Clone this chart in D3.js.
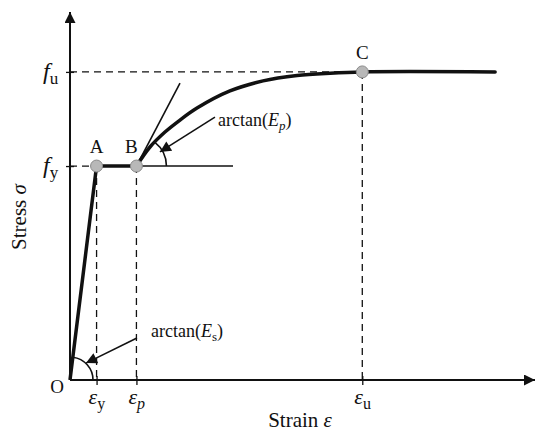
<!DOCTYPE html>
<html><head><meta charset="utf-8">
<script src="https://cdn.jsdelivr.net/npm/d3@7"></script>
<style>
html,body{margin:0;padding:0;background:#fff;}
</style></head>
<body>
<svg id="chart" width="550" height="437" font-family="'Liberation Serif','Times New Roman',Times,serif"></svg>
<script>
// ---- data (strain in arbitrary units, stress normalised by fy) ----
const tickNames = ["y", "p", "u"];
const tickStrain = [2, 5, 22];
const levelNames = ["u", "y"];
const levelStress = [1.44, 1.0];
const pointLabels = ["A", "B", "C"];
const pointStrain = [2, 5, 22];
const pointStress = [1.0, 1.0, 1.44];
const elasticStrain = [0, 2, 5];
const elasticStress = [0, 1.0, 1.0];
const hardStrain = [5, 6.02, 7.15, 8.28, 9.56, 12.04, 14.53, 17.09, 19.57, 22, 32];
const hardStress = [1.0, 1.089, 1.159, 1.215, 1.271, 1.351, 1.398, 1.423, 1.434, 1.44, 1.44];
const tangentStrain = [5, 8.28];
const tangentStress = [1.0, 1.388];
const plateauStrain = [5, 12.27];
const plateauStress = [1.0, 1.0];

const svg = d3.select("#chart");
const x = d3.scaleLinear().domain([0, 35]).range([70, 535]);
const y = d3.scaleLinear().domain([0, 1.72]).range([380, 12]);
const INK = "#111";

const defs = svg.append("defs");
defs.append("marker").attr("id","ah").attr("viewBox","0 0 10 10").attr("refX",10).attr("refY",5)
  .attr("markerWidth",16).attr("markerHeight",11).attr("markerUnits","userSpaceOnUse").attr("orient","auto")
  .append("path").attr("d","M0,0L10,5L0,10Z").attr("fill",INK);

// dashed guides
const dash = svg.append("g").attr("stroke",INK).attr("stroke-width",1.3).attr("stroke-dasharray","7,5").attr("fill","none");
dash.append("line").attr("x1",x(0)).attr("x2",x(pointStrain[2])).attr("y1",y(levelStress[0])).attr("y2",y(levelStress[0]));
dash.append("line").attr("x1",x(0)).attr("x2",x(pointStrain[0])).attr("y1",y(levelStress[1])).attr("y2",y(levelStress[1]));
pointStrain.forEach((s,i)=>{
  dash.append("line").attr("x1",x(s)).attr("x2",x(s)).attr("y1",y(pointStress[i])).attr("y2",y(0));
});

// axes with ticks
const xAxis = d3.axisBottom(x).tickValues(tickStrain).tickFormat("").tickSizeInner(5).tickSizeOuter(0);
const gx = svg.append("g").attr("transform",`translate(0,${y(0)})`).call(xAxis);
gx.select(".domain").remove();
gx.selectAll(".tick line").attr("stroke",INK).attr("stroke-width",1.3).attr("y1",-4);
const yAxis = d3.axisLeft(y).tickValues(levelStress).tickFormat("").tickSizeInner(4).tickSizeOuter(0);
const gy = svg.append("g").attr("transform",`translate(${x(0)},0)`).call(yAxis);
gy.select(".domain").remove();
gy.selectAll(".tick line").attr("stroke",INK).attr("stroke-width",1.3).attr("x2",-4).attr("x1",4);

// axis lines with arrows
svg.append("line").attr("x1",x(0)).attr("y1",y(0)).attr("x2",x(35)).attr("y2",y(0))
  .attr("stroke",INK).attr("stroke-width",2).attr("marker-end","url(#ah)");
svg.append("line").attr("x1",x(0)).attr("y1",y(0)).attr("x2",x(0)).attr("y2",y(1.72))
  .attr("stroke",INK).attr("stroke-width",2).attr("marker-end","url(#ah)");

// thin lines: plateau extension and tangent
const lin = d3.line().x(d=>x(d[0])).y(d=>y(d[1]));
svg.append("path").attr("d",lin(d3.zip(plateauStrain,plateauStress))).attr("stroke",INK).attr("stroke-width",1.6).attr("fill","none");
svg.append("path").attr("d",lin(d3.zip(tangentStrain,tangentStress))).attr("stroke",INK).attr("stroke-width",1.6).attr("fill","none");

// angle arcs
function arcAt(cx, cy, r, a0, a1){
  const p = d3.path();
  p.arc(cx, cy, r, -a0, -a1, true);
  return p.toString();
}
const elAng = Math.atan2(y(0)-y(elasticStress[1]), x(elasticStrain[1])-x(0));
svg.append("path").attr("d",arcAt(x(0),y(0),23,0,elAng)).attr("stroke",INK).attr("stroke-width",1.6).attr("fill","none");
svg.append("path").attr("d",arcAt(x(5),y(1),30,0,52*Math.PI/180)).attr("stroke",INK).attr("stroke-width",1.6).attr("fill","none");

// main stress-strain curve
svg.append("path").attr("d",lin(d3.zip(elasticStrain,elasticStress))).attr("stroke",INK).attr("stroke-width",3.5).attr("fill","none").attr("stroke-linejoin","round");
const curve = d3.line().x(d=>x(d[0])).y(d=>y(d[1])).curve(d3.curveCatmullRom.alpha(0.5));
svg.append("path").attr("d",curve(d3.zip(hardStrain,hardStress))).attr("stroke",INK).attr("stroke-width",3.5).attr("fill","none").attr("stroke-linecap","round");

// points
svg.selectAll("circle.pt").data(pointStrain).join("circle").attr("class","pt")
  .attr("cx",d=>x(d)).attr("cy",(d,i)=>y(pointStress[i])).attr("r",6)
  .attr("fill","#b8b8b8").attr("stroke","#8a8a8a").attr("stroke-width",1);
const lblDx = [0, -5, 0];
svg.selectAll("text.pl").data(pointLabels).join("text").attr("class","pl")
  .attr("x",(d,i)=>x(pointStrain[i])+lblDx[i]).attr("y",(d,i)=>y(pointStress[i])-13)
  .attr("text-anchor","middle").attr("font-size",19).attr("fill",INK).text(d=>d);

// annotation arrows
const ann = [
  {from:[5.04,0.196], to:[1.2,0.079], txt:[6.1,0.2], sub:"s", subItalic:false},
  {from:[10.91,1.229], to:[6.77,1.066], txt:[11.14,1.187], sub:"p", subItalic:true}
];
ann.forEach(a=>{
  svg.append("line").attr("x1",x(a.from[0])).attr("y1",y(a.from[1])).attr("x2",x(a.to[0])).attr("y2",y(a.to[1]))
    .attr("stroke",INK).attr("stroke-width",1.6).attr("marker-end","url(#ah)");
  const t = svg.append("text").attr("x",x(a.txt[0])).attr("y",y(a.txt[1])).attr("font-size",18).attr("fill",INK);
  t.append("tspan").text("arctan(");
  t.append("tspan").attr("font-style","italic").text("E");
  t.append("tspan").attr("font-size",13).attr("dy",4).attr("font-style",a.subItalic?"italic":"normal").text(a.sub);
  t.append("tspan").attr("dy",-4).text(")");
});

// x tick labels (epsilon)
tickStrain.forEach((s,i)=>{
  const t = svg.append("text").attr("x",x(s)-8).attr("y",y(0)+24).attr("font-size",22).attr("fill",INK);
  t.append("tspan").attr("font-style","italic").text("ε");
  t.append("tspan").attr("font-size",16).attr("dy",5).attr("font-style",tickNames[i]==="p"?"italic":"normal").text(tickNames[i]);
});
// y level labels (f)
levelStress.forEach((v,i)=>{
  const t = svg.append("text").attr("x",x(0)-27).attr("y",y(v)+7).attr("font-size",24).attr("fill",INK);
  t.append("tspan").attr("font-style","italic").text("f");
  t.append("tspan").attr("font-size",17).attr("dy",5).text(levelNames[i]);
});
svg.append("text").attr("x",x(0)-13).attr("y",y(0)+13).attr("text-anchor","middle").attr("font-size",19).attr("fill",INK).text("O");

// axis titles
const xt = svg.append("text").attr("x",300).attr("y",427).attr("text-anchor","middle").attr("font-size",21).attr("fill",INK);
xt.append("tspan").text("Strain ");
xt.append("tspan").attr("font-style","italic").text("ε");
const yt = svg.append("text").attr("transform","translate(26,217) rotate(-90)").attr("text-anchor","middle").attr("font-size",21).attr("fill",INK);
yt.append("tspan").text("Stress ");
yt.append("tspan").attr("font-style","italic").text("σ");
</script>
</body></html>
